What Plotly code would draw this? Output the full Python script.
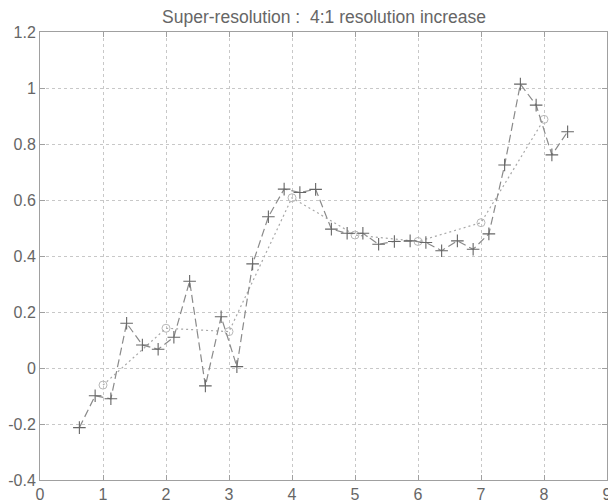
import plotly.graph_objects as go

# high-resolution estimate (+ markers), 4 samples per unit
hr_x = [0.625 + 0.25 * k for k in range(32)]
hr_y = [-0.213, -0.099, -0.110, 0.160, 0.082, 0.067, 0.110, 0.310,
        -0.064, 0.183, 0.005, 0.372, 0.540, 0.639, 0.627, 0.638,
        0.496, 0.481, 0.481, 0.442, 0.452, 0.454, 0.448, 0.419,
        0.454, 0.424, 0.479, 0.725, 1.014, 0.939, 0.761, 0.844]

# low-resolution samples (o markers)
lr_x = [1, 2, 3, 4, 5, 6, 7, 8]
lr_y = [-0.061, 0.142, 0.130, 0.608, 0.475, 0.452, 0.519, 0.888]

x_ticks = list(range(0, 10))
y_ticks = [-0.4, -0.2, 0, 0.2, 0.4, 0.6, 0.8, 1, 1.2]
y_tick_text = ["-0.4", "-0.2", "0", "0.2", "0.4", "0.6", "0.8", "1", "1.2"]

fig = go.Figure()
fig.add_trace(go.Scatter(
    x=lr_x, y=lr_y, mode="lines+markers",
    line=dict(color="#a8a8a8", width=1.2, dash="2px,3px"),
    marker=dict(symbol="circle-open", size=8, color="#b8b8b8", line=dict(width=1)),
    showlegend=False))
fig.add_trace(go.Scatter(
    x=hr_x, y=hr_y, mode="lines+markers",
    line=dict(color="#8a8a8a", width=1.2, dash="8px,4px"),
    marker=dict(symbol="cross-thin", size=9, color="#666666", line=dict(width=1.1, color="#666666")),
    showlegend=False))

axis_common = dict(
    showline=True, linecolor="#a0a0a0", linewidth=1, mirror="ticks",
    ticks="inside", ticklen=5, tickcolor="#a0a0a0",
    showgrid=True, gridcolor="#c8c8c8", griddash="dot", gridwidth=1,
    zeroline=False, automargin=False, ticklabeloverflow="allow",
    tickfont=dict(family="Liberation Sans, Arial", size=16, color="#666666"),
)

fig.update_layout(
    width=608, height=502,
    margin=dict(l=40, r=1, t=32, b=22),
    paper_bgcolor="white", plot_bgcolor="white",
    title=dict(text="Super-resolution :\u00a0 4:1 resolution increase",
               x=0.533, xanchor="center", y=0.967, yanchor="middle",
               font=dict(family="Liberation Sans, Arial", size=17.5, color="#666666")),
    xaxis=dict(range=[0, 9], tickvals=x_ticks, ticklabelstandoff=0, **axis_common),
    yaxis=dict(range=[-0.4, 1.2], tickvals=y_ticks, ticktext=y_tick_text, ticklabelstandoff=0, **axis_common),
)

fig.write_html("out.html", config={"displayModeBar": False},
               post_script="document.body.style.margin='0';document.body.style.overflow='hidden';")
